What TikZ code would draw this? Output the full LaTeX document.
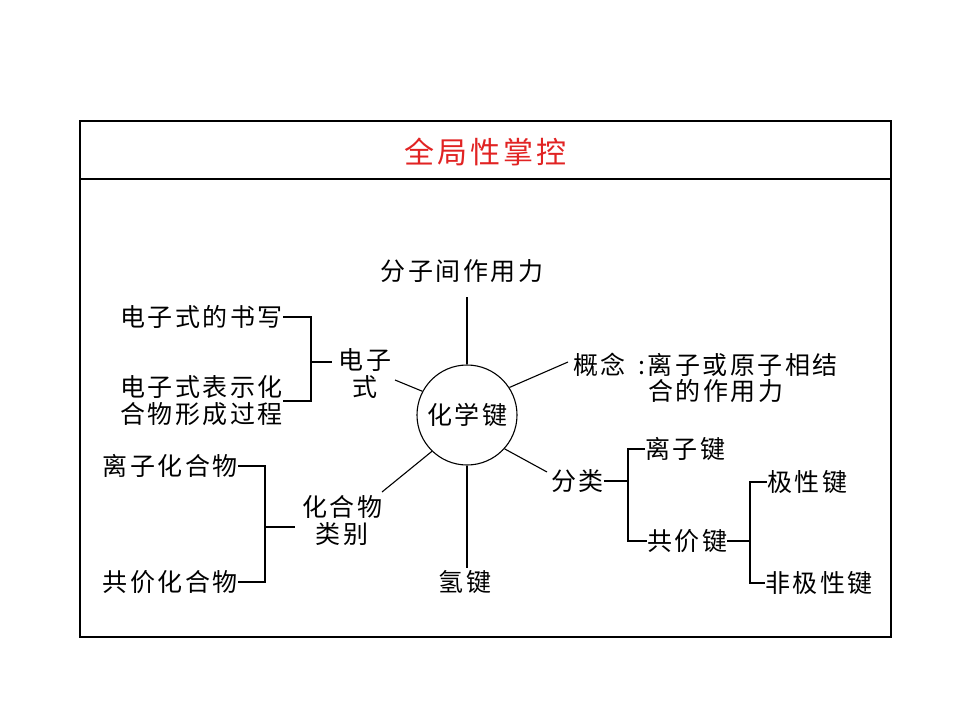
\documentclass[tikz,border=0pt]{standalone}
\usepackage{fontspec}
\setmainfont{Noto Sans CJK SC}[LetterSpace=10]
\definecolor{titlered}{RGB}{225,35,35}
\begin{document}
\begin{tikzpicture}[x=1pt,y=-1pt,
  lbl/.style={inner sep=0pt, font=\fontsize{25}{27}\selectfont},
  ln/.style={line width=1.1pt},
  frame/.style={line width=1.1pt}]
\useasboundingbox (0,0) rectangle (960,720);
% frame
\draw[frame] (80,121) rectangle (891,637);
\draw[frame] (80,179) -- (891,179);
\node[inner sep=0pt, text=titlered, font=\fontsize{30}{32}\selectfont] (title) at (485,152) {全局性掌控};
% centre
\node[circle, draw, ln, minimum size=100pt, inner sep=0pt, lbl] (c) at (467,415) {化学键};
% top
\node[lbl] (fz) at (462,271) {分子间作用力};
\coordinate (fzend) at (467,297);
\draw[ln] (c.north) -- (fzend);
% left upper
\node[lbl, anchor=east] (dz1) at (283,317) {电子式的书写};
\node[lbl, anchor=east, align=left] (dz2) at (283,401) {电子式表示化\\合物形成过程};
\node[lbl, align=center] (dzs) at (365,374) {电子\\式};
\coordinate (b1) at (311,317);
\coordinate (b1m) at (311,362);
\coordinate (b1t) at (332,362);
\draw[ln] (dz1.east) -- (b1) |- (dz2.east);
\draw[ln] (b1m) -- (b1t);
\coordinate (dzsend) at (395,380);
\draw[ln] (c.152) -- (dzsend);
% concept
\node[lbl, anchor=west] (gn1) at (573,365) {概念\hspace{0.5em}:离子或原子相结};
\node[lbl, anchor=west] (gn2) at (648,391) {合的作用力};
\coordinate (gnend) at (568,362);
\draw[ln] (c.33) -- (gnend);
% left lower
\node[lbl, anchor=east] (lz) at (238,466) {离子化合物};
\node[lbl, anchor=east] (gj) at (238,582) {共价化合物};
\node[lbl, align=center] (hl) at (342,521) {化合物\\类别};
\coordinate (b2) at (265,466);
\coordinate (b2m) at (265,527);
\coordinate (b2t) at (295,527);
\draw[ln] (lz.east) -- (b2) |- (gj.east);
\draw[ln] (b2m) -- (b2t);
\coordinate (hlend) at (382,492);
\draw[ln] (c.-134) -- (hlend);
% bottom
\node[lbl] (qj) at (465,582) {氢键};
\coordinate (qjend) at (467,568);
\draw[ln] (c.south) -- (qjend);
% right lower
\node[lbl, anchor=west] (fl) at (551,481) {分类};
\coordinate (flend) at (547,472);
\draw[ln] (c.-42) -- (flend);
\node[lbl, anchor=west] (lzj) at (645,449) {离子键};
\node[lbl, anchor=west] (gjj) at (647,541) {共价键};
\coordinate (b3) at (628,481);
\draw[ln] (fl.east) -- (b3);
\draw[ln] (lzj.west) -| (b3) |- (gjj.west);
\node[lbl, anchor=west] (jx) at (767,482) {极性键};
\node[lbl, anchor=west] (fjx) at (765,583) {非极性键};
\coordinate (b4) at (750,541);
\draw[ln] (gjj.east) -- (b4);
\draw[ln] (jx.west) -| (b4) |- (fjx.west);
\end{tikzpicture}
\end{document}
